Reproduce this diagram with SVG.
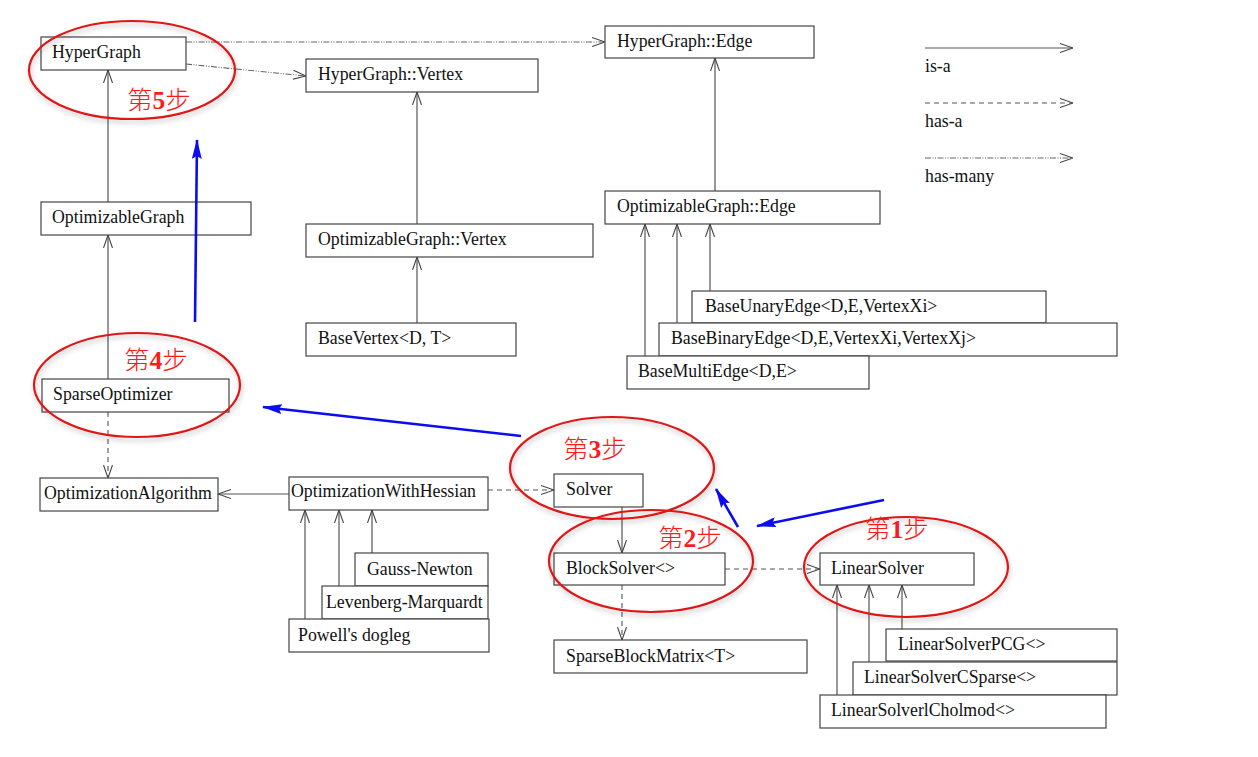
<svg xmlns="http://www.w3.org/2000/svg" width="1258" height="757" viewBox="0 0 1258 757">
<style>
.box{fill:#fff;stroke:#444;stroke-width:1.2}
.t{font-family:"Liberation Serif","Times New Roman",serif;font-size:17.8px;fill:#111}
.isa{fill:none;stroke:#555;stroke-width:1.2}
.hasa{fill:none;stroke:#555;stroke-width:1.1;stroke-dasharray:5 4}
.hasm{fill:none;stroke:#666;stroke-width:1.1;stroke-dasharray:6 1.5 1 1.5 1 1.5}
.ring{fill:none;stroke:#e01818;stroke-width:2.2}
.step{font-family:"Noto Sans CJK SC","Noto Serif CJK SC",serif;font-size:25.5px;font-weight:300;fill:#ff1a1a}
.num{font-family:"Liberation Serif",serif;font-weight:bold}
.blue{fill:none;stroke:#0c0cf0;stroke-width:2.6}
</style>
<defs>
<marker id="open" markerUnits="userSpaceOnUse" viewBox="0 0 13 10" refX="13" refY="5" markerWidth="13" markerHeight="10" orient="auto">
<path d="M0,0.5 L13,5 L0,9.5" fill="none" stroke="#444" stroke-width="1.1"/>
</marker>
<marker id="bl" markerUnits="userSpaceOnUse" viewBox="0 0 20 10" refX="19" refY="5" markerWidth="20" markerHeight="10" orient="auto">
<path d="M0,0 L20,5 L0,10 L3,5 z" fill="#0c0cf0"/>
</marker>
<filter id="sh" x="-20%" y="-20%" width="140%" height="150%">
<feDropShadow dx="1" dy="3" stdDeviation="2.5" flood-color="#000" flood-opacity="0.25"/>
</filter>
</defs>
<rect width="1258" height="757" fill="#fff"/>

<g id="connectors">
<path class="hasm" d="M186,42 L605,42" marker-end="url(#open)"/>
<path class="hasm" d="M186,64 L306,76" marker-end="url(#open)"/>
<path class="isa" d="M108,202 L108,70" marker-end="url(#open)"/>
<path class="isa" d="M108,379 L108,235" marker-end="url(#open)"/>
<path class="hasa" d="M108,412 L108,478" marker-end="url(#open)"/>
<path class="isa" d="M417,224 L417,92" marker-end="url(#open)"/>
<path class="isa" d="M417,323 L417,257" marker-end="url(#open)"/>
<path class="isa" d="M715,191 L715,58" marker-end="url(#open)"/>
<path class="isa" d="M645,356 L645,224" marker-end="url(#open)"/>
<path class="isa" d="M677,323 L677,224" marker-end="url(#open)"/>
<path class="isa" d="M710,291 L710,224" marker-end="url(#open)"/>
<path class="isa" d="M289,494 L218,494" marker-end="url(#open)"/>
<path class="hasa" d="M488,490 L554,490" marker-end="url(#open)"/>
<path class="isa" d="M305,619 L305,510" marker-end="url(#open)"/>
<path class="isa" d="M339,592 L339,510" marker-end="url(#open)"/>
<path class="isa" d="M372,553 L372,510" marker-end="url(#open)"/>
<path class="isa" d="M622,507 L622,553" marker-end="url(#open)"/>
<path class="hasa" d="M725,569 L820,569" marker-end="url(#open)"/>
<path class="hasa" d="M622,585 L622,640" marker-end="url(#open)"/>
<path class="isa" d="M837,695 L837,585" marker-end="url(#open)"/>
<path class="isa" d="M869,662 L869,585" marker-end="url(#open)"/>
<path class="isa" d="M902,629 L902,585" marker-end="url(#open)"/>
</g>

<g id="n-hypergraph"><rect class="box" x="41" y="37" width="145" height="33"/><text class="t" x="52" y="58">HyperGraph</text></g>
<g id="n-hg-vertex"><rect class="box" x="306" y="59" width="232" height="33"/><text class="t" x="318" y="80">HyperGraph::Vertex</text></g>
<g id="n-hg-edge"><rect class="box" x="605" y="26" width="209" height="32"/><text class="t" x="617" y="47">HyperGraph::Edge</text></g>
<g id="n-optgraph"><rect class="box" x="41" y="202" width="210" height="33"/><text class="t" x="52" y="223">OptimizableGraph</text></g>
<g id="n-og-vertex"><rect class="box" x="306" y="224" width="287" height="33"/><text class="t" x="318" y="245">OptimizableGraph::Vertex</text></g>
<g id="n-og-edge"><rect class="box" x="605" y="191" width="275" height="33"/><text class="t" x="617" y="212">OptimizableGraph::Edge</text></g>
<g id="n-basevertex"><rect class="box" x="306" y="323" width="210" height="33"/><text class="t" x="318" y="344">BaseVertex&lt;D, T&gt;</text></g>
<g id="n-unary"><rect class="box" x="692" y="291" width="354" height="32"/><text class="t" x="705" y="312">BaseUnaryEdge&lt;D,E,VertexXi&gt;</text></g>
<g id="n-binary"><rect class="box" x="659" y="323" width="458" height="33"/><text class="t" x="671" y="344">BaseBinaryEdge&lt;D,E,VertexXi,VertexXj&gt;</text></g>
<g id="n-multi"><rect class="box" x="627" y="356" width="242" height="33"/><text class="t" x="638" y="377">BaseMultiEdge&lt;D,E&gt;</text></g>
<g id="n-sparseopt"><rect class="box" x="42" y="379" width="187" height="33"/><text class="t" x="53" y="400">SparseOptimizer</text></g>
<g id="n-optalgo"><rect class="box" x="40" y="478" width="178" height="33"/><text class="t" x="44" y="499">OptimizationAlgorithm</text></g>
<g id="n-owh"><rect class="box" x="289" y="477" width="199" height="33"/><text class="t" x="291" y="497">OptimizationWithHessian</text></g>
<g id="n-solver"><rect class="box" x="554" y="474" width="89" height="33"/><text class="t" x="566" y="495">Solver</text></g>
<g id="n-blocksolver"><rect class="box" x="554" y="553" width="171" height="32"/><text class="t" x="566" y="574">BlockSolver&lt;&gt;</text></g>
<g id="n-linearsolver"><rect class="box" x="820" y="553" width="154" height="32"/><text class="t" x="831" y="574">LinearSolver</text></g>
<g id="n-gauss"><rect class="box" x="355" y="553" width="133" height="33"/><text class="t" x="367" y="575">Gauss-Newton</text></g>
<g id="n-lm"><rect class="box" x="322" y="586" width="166" height="33"/><text class="t" x="326" y="608">Levenberg-Marquardt</text></g>
<g id="n-powell"><rect class="box" x="289" y="619" width="200" height="33"/><text class="t" x="298" y="641">Powell's dogleg</text></g>
<g id="n-sbm"><rect class="box" x="554" y="640" width="253" height="33"/><text class="t" x="566" y="662">SparseBlockMatrix&lt;T&gt;</text></g>
<g id="n-pcg"><rect class="box" x="886" y="629" width="231" height="32"/><text class="t" x="898" y="650">LinearSolverPCG&lt;&gt;</text></g>
<g id="n-csparse"><rect class="box" x="853" y="662" width="264" height="33"/><text class="t" x="864" y="683">LinearSolverCSparse&lt;&gt;</text></g>
<g id="n-cholmod"><rect class="box" x="820" y="695" width="286" height="33"/><text class="t" x="831" y="716">LinearSolverlCholmod&lt;&gt;</text></g>

<g id="legend">
<path class="isa" d="M925,48 L1073,48" marker-end="url(#open)"/>
<text class="t" x="925" y="72">is-a</text>
<path class="hasa" d="M925,103 L1073,103" marker-end="url(#open)"/>
<text class="t" x="925" y="127">has-a</text>
<path class="hasm" d="M925,158 L1073,158" marker-end="url(#open)"/>
<text class="t" x="925" y="182">has-many</text>
</g>

<g id="steps" filter="url(#sh)">
<ellipse class="ring" cx="132" cy="70" rx="103" ry="49"/>
<ellipse class="ring" cx="137" cy="385" rx="103" ry="52"/>
<ellipse class="ring" cx="612" cy="468" rx="102" ry="51"/>
<ellipse class="ring" cx="651" cy="561" rx="102" ry="51"/>
<ellipse class="ring" cx="906" cy="567" rx="102" ry="50"/>
</g>
<g id="step-labels">
<text class="step" x="127" y="109">第<tspan class="num">5</tspan>步</text>
<text class="step" x="124" y="369">第<tspan class="num">4</tspan>步</text>
<text class="step" x="563" y="458">第<tspan class="num">3</tspan>步</text>
<text class="step" x="658" y="547">第<tspan class="num">2</tspan>步</text>
<text class="step" x="865" y="538">第<tspan class="num">1</tspan>步</text>
</g>
<g id="flow">
<path class="blue" d="M884,500 L757,526" marker-end="url(#bl)"/>
<path class="blue" d="M738,527 L716,489" marker-end="url(#bl)"/>
<path class="blue" d="M521,436 L263,407" marker-end="url(#bl)"/>
<path class="blue" d="M195,322 L197,140" marker-end="url(#bl)"/>
</g>
</svg>
